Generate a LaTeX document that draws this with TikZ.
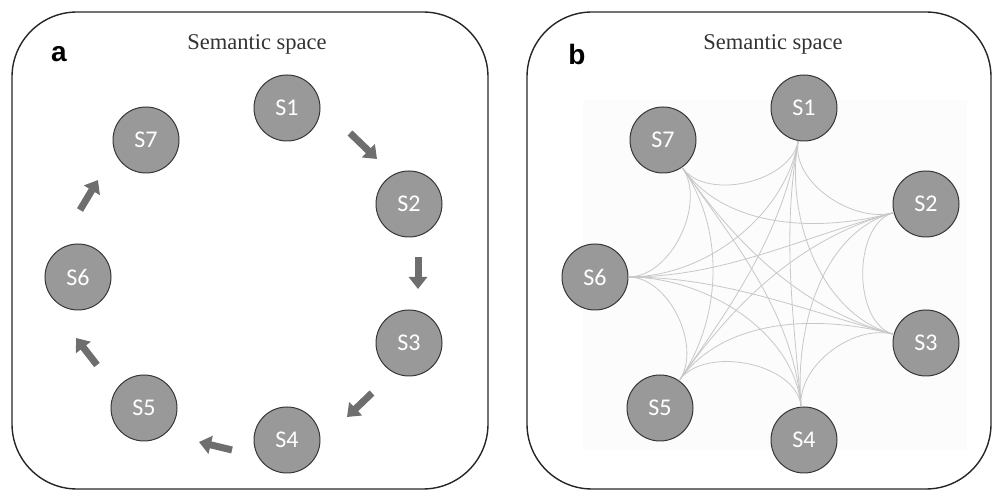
\documentclass[tikz,border=0pt]{standalone}
\usepackage{fontspec}
\usepackage{tikz}
\usetikzlibrary{arrows.meta}
\setmainfont{Liberation Serif}
\newfontfamily\statefont{Carlito}
\newfontfamily\panelfont{Liberation Sans}
\definecolor{statefill}{RGB}{153,153,153}
\definecolor{stateline}{RGB}{55,55,55}
\definecolor{flowgray}{RGB}{110,110,110}
\definecolor{linkgray}{RGB}{200,200,200}

\begin{document}
\begin{tikzpicture}[x=1pt,y=1pt,
	state/.style={circle, draw=stateline, line width=1pt, fill=statefill, text=white, minimum size=66pt, inner sep=0pt, font=\statefont\fontsize{24}{24}\selectfont},
	flow/.style={flowgray, line width=7pt, -{Triangle[width=18pt,length=12pt]}},
	link/.style={linkgray, line width=0.8pt},
	panel/.style={draw=black!85, line width=1.4pt, rounded corners=65pt},
	title/.style={font=\fontsize{22.5}{24}\selectfont, text=black!80},
	tag/.style={font=\panelfont\bfseries\fontsize{28}{28}\selectfont}]
	\useasboundingbox (0,0) rectangle (994,490);

	% panel a
	\draw[panel] (12,1) rectangle (488,478);
	\node[title] (atitle) at (257,446) {Semantic space};
	\node[tag] (atag) at (59,436) {a};
	\node[state] (a1) at (287,382) {S1};
	\node[state] (a2) at (409,286) {S2};
	\node[state] (a3) at (409,147) {S3};
	\node[state] (a4) at (287,50) {S4};
	\node[state] (a5) at (144,82) {S5};
	\node[state] (a6) at (78,213) {S6};
	\node[state] (a7) at (146,350) {S7};
	\coordinate (t12) at (350,357); \coordinate (h12) at (377,331);
	\coordinate (t23) at (418,233); \coordinate (h23) at (418,201);
	\coordinate (t34) at (372,97);  \coordinate (h34) at (347,73);
	\coordinate (t45) at (232,40);  \coordinate (h45) at (199,48);
	\coordinate (t56) at (97,125);  \coordinate (h56) at (76,152);
	\coordinate (t67) at (80,280);  \coordinate (h67) at (98,310);
	\draw[flow](t12) -- (h12);
	\draw[flow](t23) -- (h23);
	\draw[flow](t34) -- (h34);
	\draw[flow](t45) -- (h45);
	\draw[flow](t56) -- (h56);
	\draw[flow](t67) -- (h67);

	% panel b
	\draw[panel] (527,1) rectangle (991,478);
	\fill[black!1] (583,40) rectangle (967,390);
	\node[title] (btitle) at (773,446) {Semantic space};
	\node[tag] (btag) at (577,436) {b};
	\node[state] (b1) at (804,382) {S1};
	\node[state] (b2) at (926,286) {S2};
	\node[state] (b3) at (926,147) {S3};
	\node[state] (b4) at (804,50) {S4};
	\node[state] (b5) at (660,82) {S5};
	\node[state] (b6) at (595,213) {S6};
	\node[state] (b7) at (663,350) {S7};

	% S1
	\draw[link](b1.260) to [out=260,in=195,looseness=0.9](b2.195);
	\draw[link](b1.260) to [out=260,in=165,looseness=0.9](b3.165);
	\draw[link](b1.260) to [out=260,in=95,looseness=0.9](b4.95);
	\draw[link](b1.260) to [out=260,in=55,looseness=0.9](b5.55);
	\draw[link](b1.260) to [out=260,in=0,looseness=0.9](b6.0);
	\draw[link](b1.260) to [out=260,in=305,looseness=0.9](b7.305);
	% S2
	\draw[link](b2.195) to [out=195,in=165,looseness=0.9](b3.165);
	\draw[link](b2.195) to [out=195,in=95,looseness=0.9](b4.95);
	\draw[link](b2.195) to [out=195,in=55,looseness=0.9](b5.55);
	\draw[link](b2.195) to [out=195,in=0,looseness=0.9](b6.0);
	\draw[link](b2.195) to [out=195,in=305,looseness=0.9](b7.305);
	% S3
	\draw[link](b3.165) to [out=165,in=95,looseness=0.9](b4.95);
	\draw[link](b3.165) to [out=165,in=55,looseness=0.9](b5.55);
	\draw[link](b3.165) to [out=165,in=0,looseness=0.9](b6.0);
	\draw[link](b3.165) to [out=165,in=305,looseness=0.9](b7.305);
	% S4
	\draw[link](b4.95) to [out=95,in=55,looseness=0.9](b5.55);
	\draw[link](b4.95) to [out=95,in=0,looseness=0.9](b6.0);
	\draw[link](b4.95) to [out=95,in=305,looseness=0.9](b7.305);
	% S5
	\draw[link](b5.55) to [out=55,in=0,looseness=0.9](b6.0);
	\draw[link](b5.55) to [out=55,in=305,looseness=0.9](b7.305);
	% S6
	\draw[link](b6.0) to [out=0,in=305,looseness=0.9](b7.305);
\end{tikzpicture}
\end{document}
